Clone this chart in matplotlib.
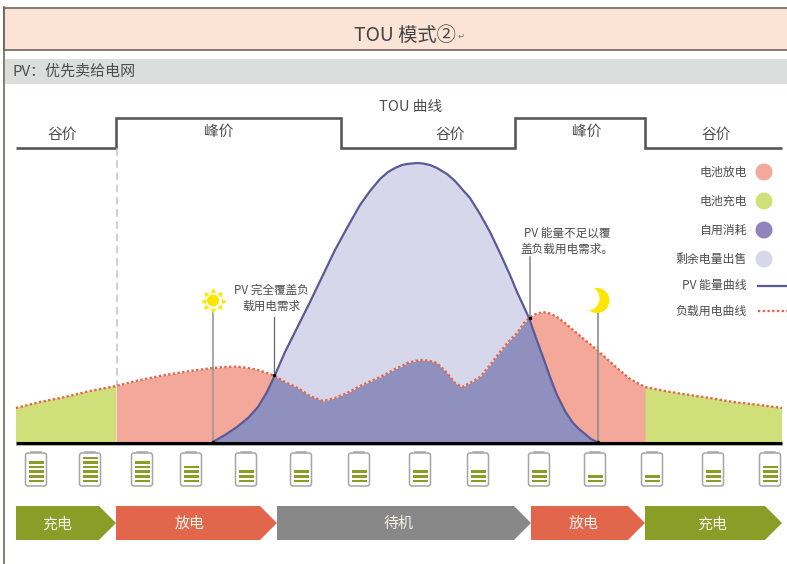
import numpy as np
import matplotlib
matplotlib.use('Agg')
import matplotlib.pyplot as plt
from matplotlib.patches import Circle, FancyBboxPatch, Polygon, Rectangle

plt.rcParams['font.family'] = ['Noto Sans CJK SC', 'DejaVu Sans']

# Curves (pixel x, pixel y, y grows downward)
x = np.array([16, 40, 65, 90, 116, 140, 165, 190, 213, 225, 237, 248, 258, 267, 275, 285, 298, 310, 323, 335,
              347, 360, 370, 380, 388, 395, 402, 407, 417, 423, 430, 437, 447, 455, 462, 470, 480, 490, 500, 510,
              517, 524, 529, 536, 543, 550, 557, 565, 573, 579, 585, 591, 597, 617, 630, 645, 665, 683, 710, 733,
              760, 782])
load = np.array([408, 402, 397, 391, 386, 380, 375, 371, 368, 367, 366.5, 368, 370, 373, 376, 382, 388, 396, 401, 398,
                 393, 386, 381.5, 377, 373, 369, 366, 363, 360.5, 360, 361, 363, 373, 383, 387, 383, 377, 365, 352, 340,
                 333, 323, 318, 314, 312, 313.5, 317, 323, 330, 335, 340, 345, 350, 368, 379, 387, 391, 394, 398, 402,
                 405, 408])
pv = np.array([442, 442, 442, 442, 442, 442, 442, 442, 442, 435, 427, 418, 407, 392, 375, 352, 326, 302, 275, 250,
               228, 205, 191, 179, 172, 168, 165, 164, 163, 163.5, 165, 168, 174, 181, 189, 198, 214, 232, 253, 275,
               292, 307, 318, 338, 357, 377, 395, 411, 423, 429, 434, 439, 442, 442, 442, 442, 442, 442, 442, 442,
               442, 442])
baseline = 442

# TOU step line
tou_x = [16, 116, 116, 341, 341, 515, 515, 645, 645, 782]
tou_y = [147.5, 147.5, 118, 118, 147.5, 147.5, 118, 118, 147.5, 147.5]
tou_labels = ['谷价', '峰价', '谷价', '峰价', '谷价']
tou_label_x = [62, 219, 450, 587, 716]
tou_label_y = [134.5, 131.5, 134.5, 131.5, 134.5]

# Batteries
battery_x = [36, 90, 142, 191, 246, 301, 359, 420, 478, 539, 595, 652, 713, 770]
battery_bars = [5, 6, 5, 4, 3, 3, 3, 3, 3, 3, 2, 2, 3, 4]

# Mode arrows
mode_labels = ['充电', '放电', '待机', '放电', '充电']
mode_left = [16, 116, 277, 531, 645]
mode_right = [116, 277, 531, 645, 782]
mode_colors = ['#8a9d27', '#e2664c', '#888888', '#e2664c', '#8a9d27']
mode_text_x = [57, 190, 399, 584, 712]

# Legend
legend_labels = ['电池放电', '电池充电', '自用消耗', '剩余电量出售']
legend_colors = ['#f4a89a', '#cfe07a', '#9184bd', '#d6d7ea']
legend_y = [172, 201, 230, 259]

fig = plt.figure(figsize=(7.87, 5.64), dpi=100)
ax = fig.add_axes([0, 0, 1, 1])
ax.set_xlim(0, 787)
ax.set_ylim(564, 0)
ax.axis('off')

text_color = '#4d4d4d'

# Header and sub header
ax.add_patch(Rectangle((4, 7.5), 790, 42.5, facecolor='#fbe4d6', edgecolor='#6e6662', lw=1.2))
ax.add_patch(Rectangle((5, 59), 782, 25, facecolor='#dcdedd', edgecolor='none'))
ax.plot([4, 4], [7, 564], color='#6e6662', lw=1.2)
ax.text(354, 35, 'TOU 模式②', fontsize=13.9, color='#444444', ha='left', va='center')
ax.text(461, 36, '↵', fontsize=6, color='#777777', ha='center', va='center', family=['DejaVu Sans'])
ax.text(12, 71, 'PV：优先卖给电网', fontsize=10.8, color=text_color, ha='left', va='center')

# TOU line
ax.plot(tou_x, tou_y, color='#58585a', lw=1.9, solid_joinstyle='miter', solid_capstyle='butt')
ax.text(411, 107, 'TOU 曲线', fontsize=10.6, color=text_color, ha='center', va='center')
for lab, lx, ly in zip(tou_labels, tou_label_x, tou_label_y):
    ax.text(lx, ly, lab, fontsize=10.6, color=text_color, ha='center', va='center')

# Filled areas
ax.fill_between(x, baseline, load, where=(x <= 116) | (x >= 645), color='#cfe07a', lw=0)
ax.fill_between(x, baseline, load, where=(x >= 116) & (x <= 645), color='#f4a89a', lw=0)
ax.fill_between(x, baseline, np.maximum(load, pv), where=(x >= 213) & (x <= 597), color='#9090bf', lw=0)
ax.fill_between(x, load, pv, where=(x >= 275) & (x <= 529), color='#d6d7ea', lw=0)

# Guide lines
ax.plot([117, 117], [148, 386], color='#c4c4c4', lw=1.1, ls=(0, (5, 3)))
ax.plot([213, 213], [312, 442], color='#999999', lw=1.2)
ax.plot([598, 598], [313, 442], color='#8c8c8c', lw=1.2)
ax.plot([274, 274], [317, 375], color='#666666', lw=0.9)
ax.plot([530, 530], [257, 318], color='#888888', lw=1.1)
ax.scatter([274, 530, 213, 598], [375, 318, 442, 442], s=6, color='black', zorder=6, lw=0)

# Curves
pv_part = (x >= 213) & (x <= 597)
ax.plot(x[pv_part], pv[pv_part], color='#5a5a96', lw=1.6, zorder=4)
ax.plot(x, load, color='#e2664c', lw=1.7, ls=(0, (1, 1)), zorder=5)
ax.plot([16, 782], [443, 443], color='black', lw=2.2, zorder=5, solid_capstyle='butt')
ax.plot([16, 782], [445, 445], color='#aaaaaa', lw=0.6, zorder=4)

# Annotations
ax.text(271, 298, 'PV 完全覆盖负\n载用电需求', fontsize=8.4, color=text_color, ha='center', va='center', linespacing=1.3)
ax.text(567, 241, 'PV 能量不足以覆\n盖负载用电需求。', fontsize=8.4, color=text_color, ha='center', va='center', linespacing=1.3)

# Sun
ax.add_patch(Circle((213, 300.5), 6, color='#ffe600', lw=0, zorder=3))
for i in range(8):
    a = i * np.pi / 4
    ax.scatter(213 + 9.5 * np.sin(a), 300.5 - 9.5 * np.cos(a), marker=(3, 0, -np.degrees(a)), s=22,
               color='#ffe600', lw=0, zorder=3)

# Moon
ax.add_patch(Circle((597, 300.5), 12.5, color='#ffe600', lw=0, zorder=3))
ax.add_patch(Circle((587.5, 298.5), 12, color='white', lw=0, zorder=3))

# Batteries
for bx, n in zip(battery_x, battery_bars):
    ax.add_patch(FancyBboxPatch((bx - 10.5, 453), 21, 33, boxstyle='round,pad=0,rounding_size=2.5',
                                facecolor='white', edgecolor='#a5a5a5', lw=1.1))
    ax.plot([bx - 5, bx + 5], [451.5, 451.5], color='#a5a5a5', lw=1.1)
    for k in range(n):
        ax.add_patch(Rectangle((bx - 7.5, 479.5 - 4.6 * k), 15, 2.6, facecolor='#8a9d27', edgecolor='none'))

# Mode arrows
for l, r, c in zip(mode_left, mode_right, mode_colors):
    tip = 17
    ax.add_patch(Polygon([(l, 506), (r - tip, 506), (r, 523), (r - tip, 540), (l, 540)], closed=True,
                         facecolor=c, edgecolor='none'))
for lab, tx in zip(mode_labels, mode_text_x):
    ax.text(tx, 524, lab, fontsize=10.8, color='#f4f4ea', ha='center', va='center')

# Legend
for lab, c, ly in zip(legend_labels, legend_colors, legend_y):
    ax.add_patch(Circle((764, ly), 8.5, color=c, lw=0))
    ax.text(747, ly, lab, fontsize=8.6, color=text_color, ha='right', va='center')
ax.text(747, 285, 'PV 能量曲线', fontsize=8.6, color=text_color, ha='right', va='center')
ax.plot([758, 787], [285.7, 285.7], color='#5a5a96', lw=1.6)
ax.text(747, 311, '负载用电曲线', fontsize=8.6, color=text_color, ha='right', va='center')
ax.plot([758, 787], [311, 311], color='#e2664c', lw=1.7, ls=(0, (1, 1)))

fig.savefig('out.png', dpi=100)
